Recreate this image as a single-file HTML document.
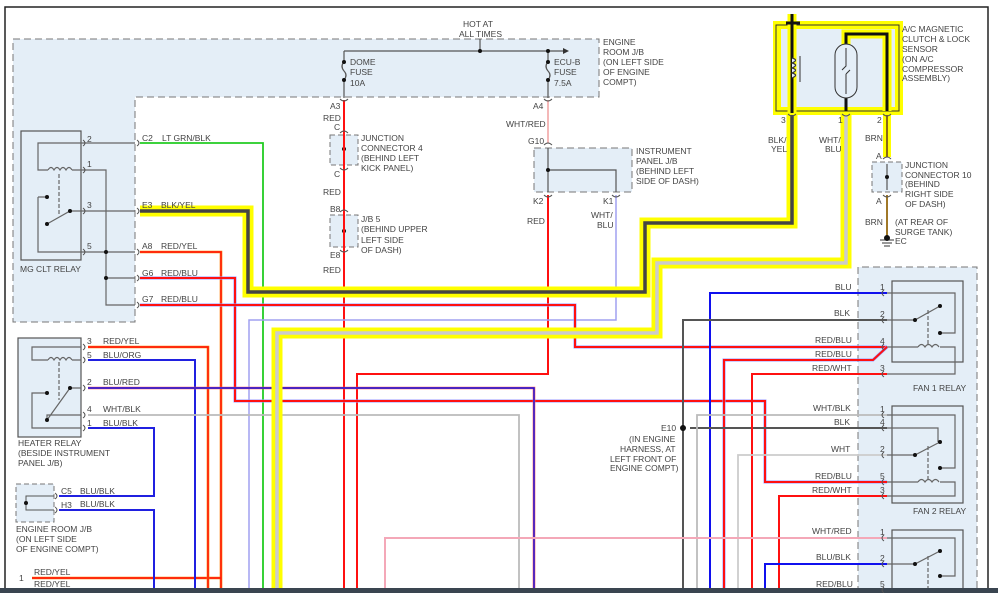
<!DOCTYPE html>
<html><head><meta charset="utf-8"><style>
html,body{margin:0;padding:0;background:#fff;}
svg{display:block;}
text{font-family:"Liberation Sans",sans-serif;font-size:8.5px;fill:#444;}
</style></head><body>
<svg width="998" height="593" viewBox="0 0 998 593" xmlns="http://www.w3.org/2000/svg">
<g fill="none" stroke-linejoin="miter">
<path d="M5 593 V7 H988 V593" stroke="#222" stroke-width="1.5"/>
<path d="M13 39 H599 V97 H135 V322 H13 Z" fill="#e4eef7" stroke="#777" stroke-dasharray="7,4"/>
<path d="M858 593 V267 H977 V593" fill="#e4eef7" stroke="#777" stroke-dasharray="7,4"/>
<rect x="330" y="135" width="28" height="30" fill="#e4eef7" stroke="#777" stroke-dasharray="5,3"/>
<rect x="330" y="215" width="28" height="32" fill="#e4eef7" stroke="#777" stroke-dasharray="5,3"/>
<rect x="534" y="148" width="98" height="44" fill="#e4eef7" stroke="#777" stroke-dasharray="7,4"/>
<rect x="872" y="162" width="30" height="30" fill="#e4eef7" stroke="#777" stroke-dasharray="5,3"/>
<rect x="16" y="484" width="38" height="38" fill="#e4eef7" stroke="#777" stroke-dasharray="5,3"/>

<rect x="21" y="131" width="60" height="129" fill="#e4eef7" stroke="#555" stroke-width="1.2"/>
<rect x="18" y="338" width="63" height="99" fill="#e4eef7" stroke="#555" stroke-width="1.2"/>
<rect x="892" y="281" width="71" height="81" fill="#e4eef7" stroke="#555" stroke-width="1.2"/>
<rect x="892" y="406" width="71" height="97" fill="#e4eef7" stroke="#555" stroke-width="1.2"/>
<rect x="892" y="530" width="71" height="70" fill="#e4eef7" stroke="#555" stroke-width="1.2"/>

<g stroke="#666" stroke-width="1.2">
<path d="M81 143 H38 V170 H48 M72 170 H81"/>
<path d="M48 170 q3 -5 6 0 q3 -5 6 0 q3 -5 6 0 q3 -5 6 0"/>
<path d="M38 197 H47 M38 197 V252 H81 M47 224 L70 211 H81"/>
<path d="M59 174 V215" stroke-dasharray="4,2"/>
<path d="M81 143 H135 M81 170 H106 V305 H135 M81 211 H135 M81 252 H135 M106 278 H135"/>
</g>
<g fill="#111"><circle cx="47" cy="197" r="2"/><circle cx="47" cy="224" r="2"/><circle cx="70" cy="211" r="2"/><circle cx="106" cy="252" r="2"/><circle cx="106" cy="278" r="2"/></g>

<g stroke="#666" stroke-width="1.2">
<path d="M81 347 H32 V360 H48 M72 360 H81"/>
<path d="M48 360 q3 -5 6 0 q3 -5 6 0 q3 -5 6 0 q3 -5 6 0"/>
<path d="M47 393 H32 V428 H81 M47 420 L70 388 H81 M47 420 V415 H81"/>
<path d="M59 362 V400" stroke-dasharray="4,2"/>
</g>
<g fill="#111"><circle cx="47" cy="393" r="2"/><circle cx="47" cy="420" r="2"/><circle cx="70" cy="388" r="2"/></g>

<path d="M54 496 H26 V510 H54" stroke="#555"/>
<circle cx="26" cy="503" r="2" fill="#111"/>

<g stroke="#666" stroke-width="1.2">
<path d="M887 293 H955 V333 H940 M887 320 H915 L940 306 M887 347 H918 M940 347 H955 V374 H887"/>
<path d="M918 347 q3.5 -5 7 0 q3.5 -5 7 0 q3.5 -5 7 0"/>
<path d="M928 310 V345" stroke-dasharray="4,2"/>
<path d="M887 415 H955 V468 H940 M887 428 H938 V442 M887 455 H915 L940 442 M887 482 H918 M940 482 H955 V496 H887"/>
<path d="M918 482 q3.5 -5 7 0 q3.5 -5 7 0 q3.5 -5 7 0"/>
<path d="M928 446 V480" stroke-dasharray="4,2"/>
<path d="M887 538 H955 V576 H940 M887 564 H915 L940 551"/>
<path d="M928 556 V593" stroke-dasharray="4,2"/>
</g>
<g fill="#111"><circle cx="915" cy="320" r="2"/><circle cx="940" cy="306" r="2"/><circle cx="940" cy="333" r="2"/>
<circle cx="915" cy="455" r="2"/><circle cx="940" cy="442" r="2"/><circle cx="940" cy="468" r="2"/>
<circle cx="915" cy="564" r="2"/><circle cx="940" cy="551" r="2"/><circle cx="940" cy="576" r="2"/></g>

<g stroke="#555" stroke-width="1.2">
<path d="M480 39 V51 M344 51 H563"/>
<path d="M344 51 V62 M344 80 V98"/>
<path d="M344 62 q-4 4 0 9 q4 4 0 9"/>
<path d="M548 51 V62 M548 80 V98"/>
<path d="M548 62 q-4 4 0 9 q4 4 0 9"/>
<path d="M344 137 V163 M344 218 V245 M548 148 V192 M548 170 H616 V192 M887 164 V190"/>
</g>
<path d="M563 48 L569 51 L563 54 Z" fill="#333"/>
<g fill="#111"><circle cx="480" cy="51" r="2"/><circle cx="548" cy="51" r="2"/><circle cx="344" cy="62" r="2"/><circle cx="344" cy="80" r="2"/><circle cx="548" cy="62" r="2"/><circle cx="548" cy="80" r="2"/>
<circle cx="344" cy="149" r="2"/><circle cx="344" cy="231" r="2"/><circle cx="548" cy="170" r="2"/><circle cx="887" cy="177" r="2"/></g>

<path d="M140 143 H263 V593" stroke="#22cc22" stroke-width="1.8"/>
<path d="M344 100 V593" stroke="#ff1010" stroke-width="2"/>
<path d="M548 100 V143" stroke="#f0a0a0" stroke-width="1.5"/>
<path d="M548 195 V374 H357 V593" stroke="#ff1010" stroke-width="2"/>
<path d="M616 195 V320 H249 V593" stroke="#a0a0f0" stroke-width="1.5"/>
<path d="M140 252 H221 V593 M32 578 H221" stroke="#ff8000" stroke-width="2.6"/>
<path d="M140 252 H221 V593 M32 578 H221" stroke="#ff1010" stroke-width="1.4"/>
<path d="M140 278 H235 V401 H765 V482 H887" stroke="#9a9aff" stroke-width="3"/>
<path d="M140 278 H235 V401 H765 V482 H887" stroke="#ff1010" stroke-width="2"/>
<path d="M140 305 H575 V347 H887" stroke="#9a9aff" stroke-width="3"/>
<path d="M140 305 H575 V347 H887" stroke="#ff1010" stroke-width="2"/>
<path d="M724 593 V360 H873 L887 347" stroke="#9a9aff" stroke-width="3"/>
<path d="M724 593 V360 H873 L887 347" stroke="#ff1010" stroke-width="2"/>
<path d="M88 347 H208 V593" stroke="#ff8000" stroke-width="2.6"/>
<path d="M88 347 H208 V593" stroke="#ff1010" stroke-width="1.4"/>
<path d="M88 360 H195 V593" stroke="#2020e0" stroke-width="2"/>
<path d="M88 388 H534 V593" stroke="#ff6060" stroke-width="2.6"/>
<path d="M88 388 H534 V593" stroke="#1010e0" stroke-width="1.4"/>
<path d="M88 415 H519 V593" stroke="#bbb" stroke-width="1.8"/>
<path d="M88 428 H154 V496 H59 M59 510 H154 V593" stroke="#2020e0" stroke-width="2"/>
<path d="M710 593 V293 H887" stroke="#1010ee" stroke-width="2"/>
<path d="M683 593 V320 H887 M690 428 H887" stroke="#555" stroke-width="2"/>
<path d="M752 593 V374 H887" stroke="#ff1010" stroke-width="2"/>
<path d="M697 593 V415 H887" stroke="#bbb" stroke-width="1.8"/>
<path d="M738 593 V455 H887" stroke="#ccc" stroke-width="1.8"/>
<path d="M779 593 V496 H887" stroke="#ff1010" stroke-width="2"/>
<path d="M385 593 V538 H887" stroke="#f4a8b8" stroke-width="2"/>
<path d="M765 593 V564 H887" stroke="#1010ee" stroke-width="2"/>
<circle cx="683" cy="428" r="3" fill="#111"/>

<path d="M140 211 H248 V292 H645 V223 H792 V113" stroke="#ffff00" stroke-width="11"/>
<path d="M140 211 H248 V292 H645 V223 H792 V113" stroke="#444" stroke-width="3.5"/>
<path d="M846 113 V263 H657 V333 H277 V593" stroke="#ffff00" stroke-width="11"/>
<path d="M846 113 V263 H657 V333 H277 V593" stroke="#ccc" stroke-width="3.5"/>
<path d="M887 113 V157" stroke="#ffff00" stroke-width="8"/>
<path d="M887 113 V157" stroke="#8b6914" stroke-width="2"/>
<path d="M887 195 V237" stroke="#a07828" stroke-width="2"/>
<g stroke="#333"><path d="M880 240 H894 M882 243 H892 M884 246 H890"/></g>
<circle cx="887" cy="238" r="3" fill="#111"/>

<rect x="777" y="25" width="122" height="86" fill="#e4eef7" stroke="#ffff00" stroke-width="8"/>
<rect x="776" y="25" width="123" height="86" stroke="#333" stroke-width="1"/>
<path d="M792 14 V113" stroke="#ffff00" stroke-width="9"/>
<path d="M792 14 V113" stroke="#111" stroke-width="3"/>
<path d="M786 23 H800" stroke="#111" stroke-width="3"/>
<path d="M846 45 V34 H887 V111" stroke="#ffff00" stroke-width="9"/>
<path d="M846 45 V34 H887 V111 M846 97 V111" stroke="#111" stroke-width="3"/>
<path d="M792 58 q7 2 0 5 q7 2 0 5 q7 2 0 5 q7 2 0 5" stroke="#333" stroke-width="1.2" fill="#e4eef7"/>
<path d="M800 56 V82" stroke="#333"/>
<rect x="835" y="44" width="22" height="54" rx="11" fill="#e4eef7" stroke="#333"/>
<path d="M846 48 V66 L842 70 M846 74 L846 94 M846 74 L850 70" stroke="#333"/>
</g>

<rect x="0" y="588" width="998" height="5" fill="#3a4550"/>

<g stroke="#555" fill="none" stroke-width="1">
<path d="M83 140 q4 3 0 6 M83 167 q4 3 0 6 M83 208 q4 3 0 6 M83 249 q4 3 0 6"/>
<path d="M137 140 q4 3 0 6 M137 208 q4 3 0 6 M137 249 q4 3 0 6 M137 275 q4 3 0 6 M137 302 q4 3 0 6"/>
<path d="M83 344 q4 3 0 6 M83 357 q4 3 0 6 M83 385 q4 3 0 6 M83 412 q4 3 0 6 M83 425 q4 3 0 6"/>
<path d="M55 493 q4 3 0 6 M55 507 q4 3 0 6"/>
<path d="M884 290 q-4 3 0 6 M884 317 q-4 3 0 6 M884 344 q-4 3 0 6 M884 371 q-4 3 0 6"/>
<path d="M884 412 q-4 3 0 6 M884 425 q-4 3 0 6 M884 452 q-4 3 0 6 M884 479 q-4 3 0 6 M884 493 q-4 3 0 6"/>
<path d="M884 535 q-4 3 0 6 M884 561 q-4 3 0 6 M884 587 q-4 3 0 6"/>
<path d="M340 99 q4 4 8 0 M544 99 q4 4 8 0 M340 133 q4 -4 8 0 M340 168 q4 4 8 0 M340 212 q4 -4 8 0 M340 250 q4 4 8 0"/>
<path d="M544 145 q4 -4 8 0 M544 195 q4 4 8 0 M612 195 q4 4 8 0 M883 159 q4 -4 8 0 M883 195 q4 4 8 0"/>
<path d="M788 114 q4 4 8 0 M842 114 q4 4 8 0 M883 114 q4 4 8 0"/>
</g>

<text x="463" y="27">HOT AT</text><text x="459" y="37">ALL TIMES</text>
<text x="350" y="65">DOME</text><text x="350" y="75">FUSE</text><text x="350" y="86">10A</text>
<text x="554" y="65">ECU-B</text><text x="554" y="75">FUSE</text><text x="554" y="86">7.5A</text>
<text x="603" y="45">ENGINE</text><text x="603" y="55">ROOM J/B</text><text x="603" y="65">(ON LEFT SIDE</text><text x="603" y="75">OF ENGINE</text><text x="603" y="85">COMPT)</text>
<text x="330" y="109">A3</text><text x="323" y="121">RED</text><text x="334" y="130">C</text>
<text x="361" y="141">JUNCTION</text><text x="361" y="151">CONNECTOR 4</text><text x="361" y="161">(BEHIND LEFT</text><text x="361" y="171">KICK PANEL)</text>
<text x="334" y="177">C</text><text x="323" y="195">RED</text><text x="330" y="212">B8</text>
<text x="361" y="222">J/B 5</text><text x="361" y="232">(BEHIND UPPER</text><text x="361" y="243">LEFT SIDE</text><text x="361" y="253">OF DASH)</text>
<text x="330" y="258">E8</text><text x="323" y="273">RED</text>
<text x="533" y="109">A4</text><text x="506" y="127">WHT/RED</text><text x="528" y="144">G10</text>
<text x="636" y="154">INSTRUMENT</text><text x="636" y="164">PANEL J/B</text><text x="636" y="174">(BEHIND LEFT</text><text x="636" y="184">SIDE OF DASH)</text>
<text x="533" y="204">K2</text><text x="603" y="204">K1</text><text x="527" y="224">RED</text><text x="591" y="218">WHT/</text><text x="597" y="228">BLU</text>
<text x="902" y="32">A/C MAGNETIC</text><text x="902" y="42">CLUTCH &amp; LOCK</text><text x="902" y="52">SENSOR</text><text x="902" y="62">(ON A/C</text><text x="902" y="72">COMPRESSOR</text><text x="902" y="81">ASSEMBLY)</text>
<text x="781" y="123">3</text><text x="838" y="123">1</text><text x="877" y="123">2</text>
<text x="768" y="143">BLK/</text><text x="771" y="152">YEL</text><text x="819" y="143">WHT/</text><text x="825" y="152">BLU</text><text x="865" y="141">BRN</text>
<text x="876" y="159">A</text><text x="876" y="204">A</text>
<text x="905" y="168">JUNCTION</text><text x="905" y="178">CONNECTOR 10</text><text x="905" y="187">(BEHIND</text><text x="905" y="197">RIGHT SIDE</text><text x="905" y="207">OF DASH)</text>
<text x="865" y="225">BRN</text><text x="895" y="225">(AT REAR OF</text><text x="895" y="235">SURGE TANK)</text><text x="895" y="244">EC</text>
<text x="87" y="142">2</text><text x="87" y="167">1</text><text x="87" y="208">3</text><text x="87" y="249">5</text>
<text x="142" y="141">C2</text><text x="162" y="141">LT GRN/BLK</text>
<text x="142" y="208">E3</text><text x="161" y="208">BLK/YEL</text>
<text x="142" y="249">A8</text><text x="161" y="249">RED/YEL</text>
<text x="142" y="276">G6</text><text x="161" y="276">RED/BLU</text>
<text x="142" y="302">G7</text><text x="161" y="302">RED/BLU</text>
<text x="20" y="272">MG CLT RELAY</text>
<text x="87" y="344">3</text><text x="103" y="344">RED/YEL</text>
<text x="87" y="358">5</text><text x="103" y="358">BLU/ORG</text>
<text x="87" y="385">2</text><text x="103" y="385">BLU/RED</text>
<text x="87" y="412">4</text><text x="103" y="412">WHT/BLK</text>
<text x="87" y="426">1</text><text x="103" y="426">BLU/BLK</text>
<text x="18" y="446">HEATER RELAY</text><text x="18" y="456">(BESIDE INSTRUMENT</text><text x="18" y="466">PANEL J/B)</text>
<text x="61" y="494">C5</text><text x="80" y="494">BLU/BLK</text>
<text x="61" y="508">H3</text><text x="80" y="507">BLU/BLK</text>
<text x="16" y="532">ENGINE ROOM J/B</text><text x="16" y="542">(ON LEFT SIDE</text><text x="16" y="552">OF ENGINE COMPT)</text>
<text x="19" y="581">1</text><text x="34" y="575">RED/YEL</text><text x="34" y="587">RED/YEL</text>
<text x="835" y="290">BLU</text><text x="834" y="316">BLK</text><text x="815" y="343">RED/BLU</text><text x="815" y="357">RED/BLU</text><text x="812" y="371">RED/WHT</text>
<text x="880" y="290">1</text><text x="880" y="317">2</text><text x="880" y="344">4</text><text x="880" y="371">3</text>
<text x="913" y="391">FAN 1 RELAY</text>
<text x="813" y="411">WHT/BLK</text><text x="834" y="425">BLK</text><text x="831" y="452">WHT</text><text x="815" y="479">RED/BLU</text><text x="812" y="493">RED/WHT</text>
<text x="880" y="412">1</text><text x="880" y="425">4</text><text x="880" y="452">2</text><text x="880" y="479">5</text><text x="880" y="493">3</text>
<text x="913" y="514">FAN 2 RELAY</text>
<text x="812" y="534">WHT/RED</text><text x="816" y="560">BLU/BLK</text><text x="816" y="587">RED/BLU</text>
<text x="880" y="535">1</text><text x="880" y="561">2</text><text x="880" y="587">5</text>
<text x="661" y="431">E10</text><text x="629" y="442">(IN ENGINE</text><text x="620" y="452">HARNESS, AT</text><text x="610" y="462">LEFT FRONT OF</text><text x="610" y="471">ENGINE COMPT)</text>
</svg>
</body></html>
